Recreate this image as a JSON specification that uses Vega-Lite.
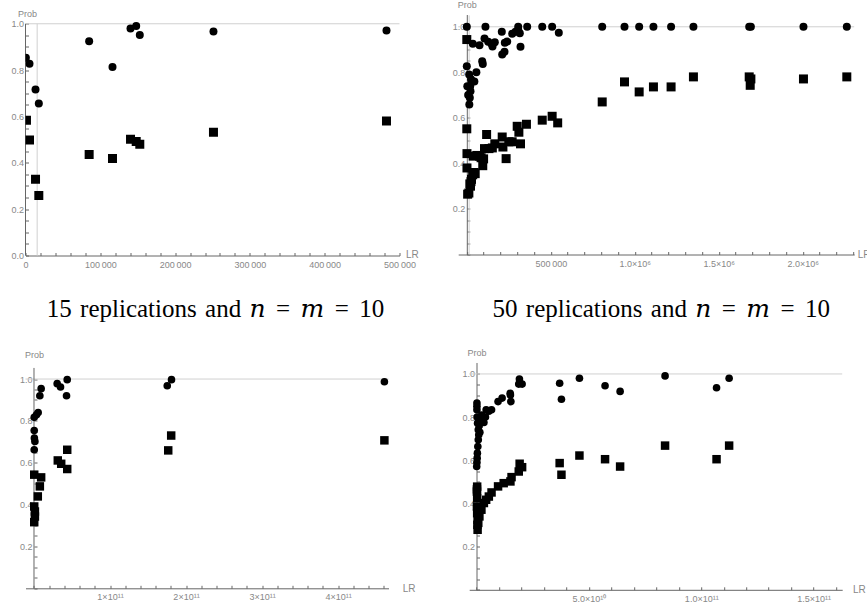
{
  "$schema": "https://vega.github.io/schema/vega-lite/v6.json",
  "autosize": {"type": "pad"},
  "padding": {"left": 10.5, "top": 0.5, "right": 0, "bottom": 0},
  "background": "white",
  "config": {
    "view": {"stroke": null},
    "axis": {
      "grid": false,
      "domainColor": "#666666",
      "tickColor": "#666666",
      "tickSize": -3,
      "tickCount": 1000,
      "labelColor": "#888888",
      "labelFont": "Liberation Sans",
      "labelFontSize": 9,
      "labelOverlap": false,
      "labelFlush": false,
      "labelBound": false,
      "titleFont": "Liberation Sans",
      "titleFontSize": 9,
      "titleFontWeight": "normal",
      "titleColor": "#888888",
      "titleAngle": 0
    },
    "axisX": {"labelPadding": 7.5, "labelOverlap": false},
    "axisY": {"labelPadding": 5, "labelOverlap": false}
  },
  "datasets": {
    "tl": [
      {"LR": 500, "Prob": 0.853, "s": "c"}, {"LR": 5350, "Prob": 0.827, "s": "c"}, {"LR": 13400, "Prob": 0.716, "s": "c"},
      {"LR": 17800, "Prob": 0.656, "s": "c"}, {"LR": 85100, "Prob": 0.925, "s": "c"}, {"LR": 116300, "Prob": 0.813, "s": "c"},
      {"LR": 140400, "Prob": 0.98, "s": "c"}, {"LR": 148000, "Prob": 0.99, "s": "c"}, {"LR": 152800, "Prob": 0.951, "s": "c"},
      {"LR": 251300, "Prob": 0.967, "s": "c"}, {"LR": 482600, "Prob": 0.971, "s": "c"},
      {"LR": 1300, "Prob": 0.584, "s": "q"}, {"LR": 5350, "Prob": 0.498, "s": "q"}, {"LR": 13400, "Prob": 0.329, "s": "q"},
      {"LR": 17800, "Prob": 0.259, "s": "q"}, {"LR": 85100, "Prob": 0.436, "s": "q"}, {"LR": 116300, "Prob": 0.419, "s": "q"},
      {"LR": 140400, "Prob": 0.502, "s": "q"}, {"LR": 148000, "Prob": 0.492, "s": "q"}, {"LR": 152800, "Prob": 0.48, "s": "q"},
      {"LR": 251300, "Prob": 0.532, "s": "q"}, {"LR": 482600, "Prob": 0.58, "s": "q"}
    ],
    "tr": [
      {"LR": 0, "Prob": 1.0, "s": "c"}, {"LR": 0, "Prob": 0.827, "s": "c"}, {"LR": 3000, "Prob": 0.739, "s": "c"},
      {"LR": 14000, "Prob": 0.79, "s": "c"}, {"LR": 20000, "Prob": 0.739, "s": "c"}, {"LR": 22000, "Prob": 0.717, "s": "c"},
      {"LR": 18000, "Prob": 0.688, "s": "c"}, {"LR": 15000, "Prob": 0.659, "s": "c"}, {"LR": 30000, "Prob": 0.758, "s": "c"},
      {"LR": 45000, "Prob": 0.76, "s": "c"}, {"LR": 57000, "Prob": 0.8, "s": "c"}, {"LR": 25000, "Prob": 0.77, "s": "c"},
      {"LR": 8000, "Prob": 0.7, "s": "c"}, {"LR": 35700, "Prob": 0.925, "s": "c"}, {"LR": 75600, "Prob": 0.919, "s": "c"},
      {"LR": 91700, "Prob": 0.849, "s": "c"}, {"LR": 95200, "Prob": 0.837, "s": "c"}, {"LR": 105400, "Prob": 0.949, "s": "c"},
      {"LR": 111000, "Prob": 1.0, "s": "c"}, {"LR": 127400, "Prob": 0.934, "s": "c"}, {"LR": 147000, "Prob": 0.925, "s": "c"},
      {"LR": 153000, "Prob": 0.914, "s": "c"}, {"LR": 166700, "Prob": 0.932, "s": "c"}, {"LR": 208300, "Prob": 0.978, "s": "c"},
      {"LR": 210700, "Prob": 0.878, "s": "c"}, {"LR": 224400, "Prob": 0.89, "s": "c"}, {"LR": 226200, "Prob": 0.93, "s": "c"},
      {"LR": 240500, "Prob": 0.935, "s": "c"}, {"LR": 270200, "Prob": 0.969, "s": "c"}, {"LR": 289900, "Prob": 0.978, "s": "c"},
      {"LR": 306000, "Prob": 0.987, "s": "c"}, {"LR": 306000, "Prob": 1.0, "s": "c"}, {"LR": 315500, "Prob": 0.972, "s": "c"},
      {"LR": 319600, "Prob": 0.912, "s": "c"}, {"LR": 359500, "Prob": 1.0, "s": "c"}, {"LR": 449000, "Prob": 1.0, "s": "c"},
      {"LR": 508000, "Prob": 1.0, "s": "c"}, {"LR": 547600, "Prob": 0.974, "s": "c"}, {"LR": 806000, "Prob": 1.0, "s": "c"},
      {"LR": 938700, "Prob": 1.0, "s": "c"}, {"LR": 1026000, "Prob": 1.0, "s": "c"}, {"LR": 1111000, "Prob": 1.0, "s": "c"},
      {"LR": 1216000, "Prob": 1.0, "s": "c"}, {"LR": 1349000, "Prob": 1.0, "s": "c"}, {"LR": 1681000, "Prob": 1.0, "s": "c"},
      {"LR": 1691000, "Prob": 1.0, "s": "c"}, {"LR": 2004000, "Prob": 1.0, "s": "c"}, {"LR": 2262000, "Prob": 1.0, "s": "c"},
      {"LR": 0, "Prob": 0.944, "s": "q"}, {"LR": 0, "Prob": 0.552, "s": "q"}, {"LR": 1000, "Prob": 0.443, "s": "q"},
      {"LR": 1000, "Prob": 0.38, "s": "q"}, {"LR": 12300, "Prob": 0.27, "s": "q"}, {"LR": 5000, "Prob": 0.265, "s": "q"},
      {"LR": 18000, "Prob": 0.31, "s": "q"}, {"LR": 22000, "Prob": 0.3, "s": "q"}, {"LR": 28000, "Prob": 0.33, "s": "q"},
      {"LR": 35000, "Prob": 0.35, "s": "q"}, {"LR": 44000, "Prob": 0.36, "s": "q"}, {"LR": 50000, "Prob": 0.355, "s": "q"},
      {"LR": 25000, "Prob": 0.32, "s": "q"}, {"LR": 38000, "Prob": 0.432, "s": "q"}, {"LR": 60000, "Prob": 0.435, "s": "q"},
      {"LR": 75600, "Prob": 0.432, "s": "q"}, {"LR": 85000, "Prob": 0.425, "s": "q"}, {"LR": 95000, "Prob": 0.39, "s": "q"},
      {"LR": 105400, "Prob": 0.465, "s": "q"}, {"LR": 100000, "Prob": 0.42, "s": "q"}, {"LR": 118000, "Prob": 0.527, "s": "q"},
      {"LR": 132000, "Prob": 0.465, "s": "q"}, {"LR": 152000, "Prob": 0.468, "s": "q"}, {"LR": 166700, "Prob": 0.486, "s": "q"},
      {"LR": 210700, "Prob": 0.516, "s": "q"}, {"LR": 215000, "Prob": 0.472, "s": "q"}, {"LR": 234000, "Prob": 0.421, "s": "q"},
      {"LR": 250000, "Prob": 0.495, "s": "q"}, {"LR": 270000, "Prob": 0.495, "s": "q"}, {"LR": 300000, "Prob": 0.563, "s": "q"},
      {"LR": 310000, "Prob": 0.537, "s": "q"}, {"LR": 319600, "Prob": 0.486, "s": "q"}, {"LR": 355000, "Prob": 0.572, "s": "q"},
      {"LR": 449000, "Prob": 0.59, "s": "q"}, {"LR": 508000, "Prob": 0.607, "s": "q"}, {"LR": 541000, "Prob": 0.578, "s": "q"},
      {"LR": 806000, "Prob": 0.67, "s": "q"}, {"LR": 938700, "Prob": 0.758, "s": "q"}, {"LR": 1026000, "Prob": 0.714, "s": "q"},
      {"LR": 1111000, "Prob": 0.736, "s": "q"}, {"LR": 1216000, "Prob": 0.736, "s": "q"}, {"LR": 1349000, "Prob": 0.78, "s": "q"},
      {"LR": 1681000, "Prob": 0.78, "s": "q"}, {"LR": 1691000, "Prob": 0.771, "s": "q"}, {"LR": 1687000, "Prob": 0.743, "s": "q"},
      {"LR": 2004000, "Prob": 0.771, "s": "q"}, {"LR": 2262000, "Prob": 0.78, "s": "q"}
    ],
    "bl": [
      {"LR": 3e8, "Prob": 0.817, "s": "c"}, {"LR": 3.3e9, "Prob": 0.829, "s": "c"}, {"LR": 5.5e9, "Prob": 0.84, "s": "c"},
      {"LR": 3e8, "Prob": 0.754, "s": "c"}, {"LR": 5e8, "Prob": 0.718, "s": "c"}, {"LR": 1.2e9, "Prob": 0.702, "s": "c"},
      {"LR": 3e8, "Prob": 0.662, "s": "c"}, {"LR": 7.7e9, "Prob": 0.92, "s": "c"}, {"LR": 9.4e9, "Prob": 0.954, "s": "c"},
      {"LR": 3.05e10, "Prob": 0.978, "s": "c"}, {"LR": 3.49e10, "Prob": 0.962, "s": "c"}, {"LR": 4.37e10, "Prob": 0.997, "s": "c"},
      {"LR": 4.28e10, "Prob": 0.92, "s": "c"}, {"LR": 1.753e11, "Prob": 0.968, "s": "c"}, {"LR": 1.809e11, "Prob": 0.997, "s": "c"},
      {"LR": 4.61e11, "Prob": 0.987, "s": "c"},
      {"LR": 3e8, "Prob": 0.543, "s": "q"}, {"LR": 9.4e9, "Prob": 0.53, "s": "q"}, {"LR": 7.7e9, "Prob": 0.487, "s": "q"},
      {"LR": 5e9, "Prob": 0.439, "s": "q"}, {"LR": 3e8, "Prob": 0.391, "s": "q"}, {"LR": 1.2e9, "Prob": 0.367, "s": "q"},
      {"LR": 1.2e9, "Prob": 0.343, "s": "q"}, {"LR": 3e8, "Prob": 0.316, "s": "q"}, {"LR": 3.13e10, "Prob": 0.611, "s": "q"},
      {"LR": 3.58e10, "Prob": 0.595, "s": "q"}, {"LR": 4.37e10, "Prob": 0.57, "s": "q"}, {"LR": 4.37e10, "Prob": 0.662, "s": "q"},
      {"LR": 1.766e11, "Prob": 0.659, "s": "q"}, {"LR": 1.805e11, "Prob": 0.73, "s": "q"}, {"LR": 4.61e11, "Prob": 0.707, "s": "q"}
    ],
    "br": [
      {"LR": 3.7e10, "Prob": 0.957, "s": "c"}, {"LR": 3.78e10, "Prob": 0.883, "s": "c"}, {"LR": 4.58e10, "Prob": 0.98, "s": "c"},
      {"LR": 5.72e10, "Prob": 0.945, "s": "c"}, {"LR": 6.39e10, "Prob": 0.919, "s": "c"}, {"LR": 8.39e10, "Prob": 0.991, "s": "c"},
      {"LR": 1.068e11, "Prob": 0.936, "s": "c"}, {"LR": 1.124e11, "Prob": 0.98, "s": "c"},
      {"LR": 2e8, "Prob": 0.865, "s": "c"}, {"LR": 2e8, "Prob": 0.85, "s": "c"}, {"LR": 2e8, "Prob": 0.834, "s": "c"},
      {"LR": 3e8, "Prob": 0.8, "s": "c"}, {"LR": 5e8, "Prob": 0.772, "s": "c"}, {"LR": 8e8, "Prob": 0.741, "s": "c"},
      {"LR": 1e9, "Prob": 0.718, "s": "c"}, {"LR": 8e8, "Prob": 0.695, "s": "c"}, {"LR": 6e8, "Prob": 0.664, "s": "c"},
      {"LR": 4e8, "Prob": 0.633, "s": "c"}, {"LR": 3e8, "Prob": 0.61, "s": "c"}, {"LR": 2e8, "Prob": 0.59, "s": "c"},
      {"LR": 1e8, "Prob": 0.571, "s": "c"}, {"LR": 1.8e9, "Prob": 0.787, "s": "c"}, {"LR": 2.3e9, "Prob": 0.81, "s": "c"},
      {"LR": 3.3e9, "Prob": 0.775, "s": "c"}, {"LR": 4.3e9, "Prob": 0.834, "s": "c"}, {"LR": 5.5e9, "Prob": 0.827, "s": "c"},
      {"LR": 6.7e9, "Prob": 0.834, "s": "c"}, {"LR": 9.6e9, "Prob": 0.872, "s": "c"}, {"LR": 1.14e10, "Prob": 0.888, "s": "c"},
      {"LR": 1.51e10, "Prob": 0.903, "s": "c"}, {"LR": 1.53e10, "Prob": 0.872, "s": "c"}, {"LR": 1.91e10, "Prob": 0.976, "s": "c"},
      {"LR": 1.88e10, "Prob": 0.953, "s": "c"}, {"LR": 2.03e10, "Prob": 0.953, "s": "c"}, {"LR": 1.2e9, "Prob": 0.76, "s": "c"},
      {"LR": 1.5e9, "Prob": 0.73, "s": "c"}, {"LR": 4e9, "Prob": 0.8, "s": "c"}, {"LR": 1.5e10, "Prob": 0.91, "s": "c"},
      {"LR": 3.7e10, "Prob": 0.587, "s": "q"}, {"LR": 3.78e10, "Prob": 0.533, "s": "q"}, {"LR": 4.58e10, "Prob": 0.622, "s": "q"},
      {"LR": 5.72e10, "Prob": 0.605, "s": "q"}, {"LR": 6.39e10, "Prob": 0.571, "s": "q"}, {"LR": 8.39e10, "Prob": 0.668, "s": "q"},
      {"LR": 1.068e11, "Prob": 0.605, "s": "q"}, {"LR": 1.124e11, "Prob": 0.668, "s": "q"},
      {"LR": 2e8, "Prob": 0.465, "s": "q"}, {"LR": 2e8, "Prob": 0.455, "s": "q"}, {"LR": 3e8, "Prob": 0.425, "s": "q"},
      {"LR": 2e8, "Prob": 0.386, "s": "q"}, {"LR": 3e8, "Prob": 0.355, "s": "q"}, {"LR": 5e8, "Prob": 0.324, "s": "q"},
      {"LR": 4e8, "Prob": 0.301, "s": "q"}, {"LR": 5e8, "Prob": 0.278, "s": "q"}, {"LR": 1.3e9, "Prob": 0.34, "s": "q"},
      {"LR": 2.2e9, "Prob": 0.371, "s": "q"}, {"LR": 3.3e9, "Prob": 0.402, "s": "q"}, {"LR": 4.3e9, "Prob": 0.417, "s": "q"},
      {"LR": 5.5e9, "Prob": 0.432, "s": "q"}, {"LR": 6.7e9, "Prob": 0.451, "s": "q"}, {"LR": 9.6e9, "Prob": 0.479, "s": "q"},
      {"LR": 1.21e10, "Prob": 0.494, "s": "q"}, {"LR": 1.51e10, "Prob": 0.502, "s": "q"}, {"LR": 1.56e10, "Prob": 0.522, "s": "q"},
      {"LR": 1.88e10, "Prob": 0.548, "s": "q"}, {"LR": 1.92e10, "Prob": 0.584, "s": "q"}, {"LR": 2.03e10, "Prob": 0.568, "s": "q"},
      {"LR": 3e8, "Prob": 0.478, "s": "q"}, {"LR": 1e9, "Prob": 0.36, "s": "q"}, {"LR": 8e8, "Prob": 0.31, "s": "q"}
    ]
  },
  "vconcat": [
    {
      "hconcat": [
        {
          "width": 374,
          "height": 241,
          "title": {"text": "15\u2004replications\u2004and\u2004𝑛\u2004\u200A=\u2004\u200A𝑚\u2004\u200A=\u2004\u200A10", "orient": "bottom", "anchor": "middle", "frame": "group", "baseline": "alphabetic", "offset": 48, "dx": 3, "font": "Liberation Serif, DejaVu Serif", "fontSize": 25, "fontWeight": "normal", "color": "black"},
          "layer": [
            {"data": {"values": [{}]}, "mark": {"type": "rule", "color": "#d0d0d0"}, "encoding": {"y": {"datum": 1, "type": "quantitative"}}},
            {"data": {"values": [{}]}, "mark": {"type": "rule", "color": "#d0d0d0"}, "encoding": {"x": {"datum": 15600, "type": "quantitative"}, "y": {"datum": 0, "type": "quantitative"}, "y2": {"datum": 1}}},
            {"data": {"values": [{}]}, "mark": {"type": "rule", "color": "#666666"}, "encoding": {"x": {"datum": 0, "type": "quantitative"}, "y": {"datum": 0, "type": "quantitative"}, "y2": {"datum": 1}}},
            {
              "data": {"name": "tl"},
              "transform": [{"filter": "datum.s === 'c'"}],
              "mark": {"type": "circle", "color": "black", "opacity": 1, "size": 64, "clip": true},
              "encoding": {
                "x": {"field": "LR", "type": "quantitative", "scale": {"domain": [0, 500000], "nice": false, "zero": false},
                  "axis": {"title": "LR", "titleX": 380, "titleY": -1, "titleAlign": "left", "titleBaseline": "middle", "titleFontSize": 10, "labelOverlap": false, "tickCount": 1000,
                    "values": [0, 20000, 40000, 60000, 80000, 100000, 120000, 140000, 160000, 180000, 200000, 220000, 240000, 260000, 280000, 300000, 320000, 340000, 360000, 380000, 400000, 420000, 440000, 460000, 480000, 500000],
                    "labelExpr": "datum.value % 100000 === 0 ? (datum.value === 0 ? '0' : format(datum.value / 1000, 'd') + '\u2009000') : ''"}},
                "y": {"field": "Prob", "type": "quantitative", "scale": {"domain": [0, 1.04], "nice": false, "zero": false},
                  "axis": {"title": "Prob", "titleX": 1.5, "titleY": -1, "titleAlign": "center", "titleBaseline": "middle", "domain": false, "labelOverlap": false, "tickCount": 1000,
                    "values": [0, 0.05, 0.1, 0.15, 0.2, 0.25, 0.3, 0.35, 0.4, 0.45, 0.5, 0.55, 0.6, 0.65, 0.7, 0.75, 0.8, 0.85, 0.9, 0.95, 1.0],
                    "labelExpr": "abs(datum.value * 5 - round(datum.value * 5)) < 1e-6 ? format(datum.value, '.1f') : ''"}}
              }
            },
            {
              "data": {"name": "tl"},
              "transform": [{"filter": "datum.s === 'q'"}],
              "mark": {"type": "square", "color": "black", "opacity": 1, "size": 81, "clip": true},
              "encoding": {"x": {"field": "LR", "type": "quantitative"}, "y": {"field": "Prob", "type": "quantitative"}}
            }
          ]
        },
        {
          "width": 396,
          "height": 240,
          "title": {"text": "50\u2004replications\u2004and\u2004𝑛\u2004\u200A=\u2004\u200A𝑚\u2004\u200A=\u2004\u200A10", "orient": "bottom", "anchor": "middle", "frame": "group", "baseline": "alphabetic", "offset": 49, "dx": 5, "font": "Liberation Serif, DejaVu Serif", "fontSize": 25, "fontWeight": "normal", "color": "black"},
          "layer": [
            {"data": {"values": [{}]}, "mark": {"type": "rule", "color": "#d0d0d0"}, "encoding": {"y": {"datum": 1, "type": "quantitative"}}},
            {"data": {"values": [{}]}, "mark": {"type": "rule", "color": "#d0d0d0"}, "encoding": {"x": {"datum": 14000, "type": "quantitative"}, "y": {"datum": 0, "type": "quantitative"}, "y2": {"datum": 1.05}}},
            {
              "data": {"name": "tr"},
              "transform": [{"filter": "datum.s === 'c'"}],
              "mark": {"type": "circle", "color": "black", "opacity": 1, "size": 64},
              "encoding": {
                "x": {"field": "LR", "type": "quantitative", "scale": {"domain": [-51200, 2306000], "nice": false, "zero": false},
                  "axis": {"title": "LR", "titleX": 399, "titleY": 0, "titleAlign": "left", "titleBaseline": "middle", "titleFontSize": 10, "labelOverlap": false, "tickCount": 1000,
                    "values": [0, 100000, 200000, 300000, 400000, 500000, 600000, 700000, 800000, 900000, 1000000, 1100000, 1200000, 1300000, 1400000, 1500000, 1600000, 1700000, 1800000, 1900000, 2000000, 2100000, 2200000, 2300000],
                    "labelExpr": "datum.value > 0 && datum.value % 500000 === 0 ? (datum.value === 500000 ? '500\u2009000' : format(datum.value / 1e6, '.1f') + '×10⁶') : ''"}},
                "y": {"field": "Prob", "type": "quantitative", "scale": {"domain": [0, 1.054], "nice": false, "zero": false},
                  "axis": {"title": "Prob", "titleX": 0, "titleY": -10, "titleAlign": "center", "titleBaseline": "middle", "offset": -8.6, "labelOverlap": false, "tickCount": 1000,
                    "values": [0, 0.05, 0.1, 0.15, 0.2, 0.25, 0.3, 0.35, 0.4, 0.45, 0.5, 0.55, 0.6, 0.65, 0.7, 0.75, 0.8, 0.85, 0.9, 0.95, 1.0],
                    "labelExpr": "datum.value > 0.01 && abs(datum.value * 5 - round(datum.value * 5)) < 1e-6 ? format(datum.value, '.1f') : ''"}}
              }
            },
            {
              "data": {"name": "tr"},
              "transform": [{"filter": "datum.s === 'q'"}],
              "mark": {"type": "square", "color": "black", "opacity": 1, "size": 81},
              "encoding": {"x": {"field": "LR", "type": "quantitative"}, "y": {"field": "Prob", "type": "quantitative"}}
            }
          ]
        }
      ],
      "spacing": 58.7,
      "bounds": "flush"
    },
    {
      "hconcat": [
        {
          "width": 363,
          "height": 225.8,
          "layer": [
            {"data": {"values": [{}]}, "mark": {"type": "rule", "color": "#d0d0d0"}, "encoding": {"y": {"datum": 1, "type": "quantitative"}}},
            {"data": {"values": [{}]}, "mark": {"type": "rule", "color": "#666666"}, "encoding": {"x": {"datum": 0, "type": "quantitative"}, "y": {"datum": 0, "type": "quantitative"}, "y2": {"datum": 1.053}}},
            {
              "data": {"name": "bl"},
              "transform": [{"filter": "datum.s === 'c'"}],
              "mark": {"type": "circle", "color": "black", "opacity": 1, "size": 58},
              "encoding": {
                "x": {"field": "LR", "type": "quantitative", "scale": {"domain": [-1.118e10, 4.664e11], "nice": false, "zero": false},
                  "axis": {"title": "LR", "titleX": 376.7, "titleY": 0, "titleAlign": "left", "titleBaseline": "middle", "titleFontSize": 10, "labelOverlap": false, "tickCount": 1000,
                    "values": [0, 2e10, 4e10, 6e10, 8e10, 1e11, 1.2e11, 1.4e11, 1.6e11, 1.8e11, 2e11, 2.2e11, 2.4e11, 2.6e11, 2.8e11, 3e11, 3.2e11, 3.4e11, 3.6e11, 3.8e11, 4e11, 4.2e11, 4.4e11, 4.6e11],
                    "labelExpr": "datum.value > 0 && datum.value % 1e11 === 0 ? format(datum.value / 1e11, 'd') + '×10¹¹' : ''"}},
                "y": {"field": "Prob", "type": "quantitative", "scale": {"domain": [0, 1.079], "nice": false, "zero": false},
                  "axis": {"title": "Prob", "titleX": 0, "titleY": -7.7, "titleAlign": "center", "titleBaseline": "middle", "offset": -8.5, "domain": false, "labelOverlap": false, "tickCount": 1000,
                    "values": [0, 0.05, 0.1, 0.15, 0.2, 0.25, 0.3, 0.35, 0.4, 0.45, 0.5, 0.55, 0.6, 0.65, 0.7, 0.75, 0.8, 0.85, 0.9, 0.95, 1.0],
                    "labelExpr": "datum.value > 0.01 && abs(datum.value * 5 - round(datum.value * 5)) < 1e-6 ? format(datum.value, '.1f') : ''"}}
              }
            },
            {
              "data": {"name": "bl"},
              "transform": [{"filter": "datum.s === 'q'"}],
              "mark": {"type": "square", "color": "black", "opacity": 1, "size": 72},
              "encoding": {"x": {"field": "LR", "type": "quantitative"}, "y": {"field": "Prob", "type": "quantitative"}}
            }
          ]
        },
        {
          "width": 373,
          "height": 227.3,
          "layer": [
            {"data": {"values": [{}]}, "mark": {"type": "rule", "color": "#d0d0d0"}, "encoding": {"y": {"datum": 1, "type": "quantitative"}}},
            {
              "data": {"name": "br"},
              "transform": [{"filter": "datum.s === 'c'"}],
              "mark": {"type": "circle", "color": "black", "opacity": 1, "size": 58},
              "encoding": {
                "x": {"field": "LR", "type": "quantitative", "scale": {"domain": [-3.24e9, 1.627e11], "nice": false, "zero": false},
                  "axis": {"title": "LR", "titleX": 383.3, "titleY": 0, "titleAlign": "left", "titleBaseline": "middle", "titleFontSize": 10, "labelOverlap": false, "tickCount": 1000,
                    "values": [0, 1e10, 2e10, 3e10, 4e10, 5e10, 6e10, 7e10, 8e10, 9e10, 1e11, 1.1e11, 1.2e11, 1.3e11, 1.4e11, 1.5e11, 1.6e11],
                    "labelExpr": "datum.value > 0 && datum.value % 5e10 === 0 ? (datum.value === 5e10 ? '5.0×10¹⁰' : format(datum.value / 1e11, '.1f') + '×10¹¹') : ''"}},
                "y": {"field": "Prob", "type": "quantitative", "scale": {"domain": [0, 1.053], "nice": false, "zero": false},
                  "axis": {"title": "Prob", "titleX": 0, "titleY": -10.4, "titleAlign": "center", "titleBaseline": "middle", "offset": -7.3, "labelOverlap": false, "tickCount": 1000,
                    "values": [0, 0.05, 0.1, 0.15, 0.2, 0.25, 0.3, 0.35, 0.4, 0.45, 0.5, 0.55, 0.6, 0.65, 0.7, 0.75, 0.8, 0.85, 0.9, 0.95, 1.0],
                    "labelExpr": "datum.value > 0.01 && abs(datum.value * 5 - round(datum.value * 5)) < 1e-6 ? format(datum.value, '.1f') : ''"}}
              }
            },
            {
              "data": {"name": "br"},
              "transform": [{"filter": "datum.s === 'q'"}],
              "mark": {"type": "square", "color": "black", "opacity": 1, "size": 72},
              "encoding": {"x": {"field": "LR", "type": "quantitative"}, "y": {"field": "Prob", "type": "quantitative"}}
            }
          ]
        }
      ],
      "spacing": 80.7,
      "bounds": "flush"
    }
  ],
  "spacing": 25,
  "bounds": "full"
}
